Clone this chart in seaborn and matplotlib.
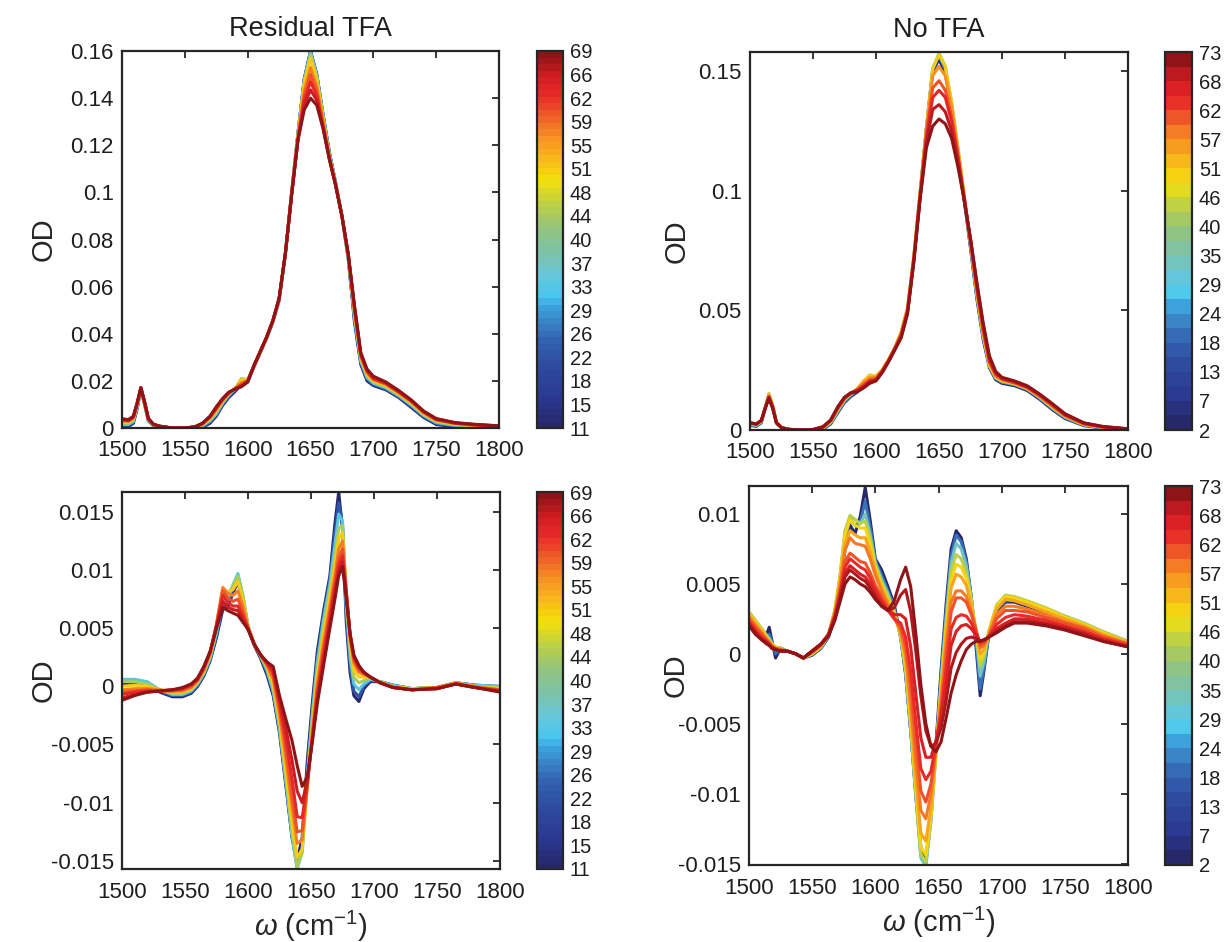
import numpy as np
import pandas as pd
import matplotlib
matplotlib.use("Agg")
import matplotlib.pyplot as plt
from matplotlib.colors import LinearSegmentedColormap, ListedColormap, Normalize
import matplotlib.cm as mcm
import seaborn as sns

# ---------------- data ----------------
WN_TOP = [1500, 1505, 1509, 1512, 1515, 1518, 1521, 1525, 1530, 1540,
          1550, 1558, 1564, 1570, 1575, 1580, 1585, 1590, 1595, 1600,
          1605, 1610, 1615, 1620, 1625, 1630, 1635, 1640, 1645, 1650,
          1655, 1660, 1665, 1670, 1675, 1680, 1685, 1690, 1695, 1700,
          1710, 1720, 1730, 1740, 1750, 1765, 1780, 1800]

# Residual TFA, absorbance, one list per time
TL_TIMES = [11, 22, 33, 44, 51, 57, 60, 63, 66, 69]
TL_11 = [0.0005,0.0006,0.002,0.008,0.0165,0.010,0.003,0.001,0.0003,0.0,
         0.0,0.0,0.0003,0.002,0.005,0.0095,0.013,0.0155,0.0185,0.0195,
         0.026,0.032,0.038,0.045,0.054,0.074,0.100,0.125,0.148,0.160,
         0.150,0.133,0.117,0.104,0.090,0.072,0.045,0.027,0.020,0.018,
         0.0162,0.013,0.0088,0.0045,0.0015,0.0005,0.0002,0.0]
TL_22 = [0.001,0.001,0.0024,0.0084,0.0166,0.0102,0.0032,0.0011,0.0004,0.0,
         0.0,0.0001,0.0006,0.0025,0.0055,0.010,0.0135,0.016,0.0195,0.020,
         0.0261,0.0321,0.0381,0.0451,0.0542,0.074,0.100,0.125,0.148,0.1598,
         0.150,0.133,0.117,0.104,0.090,0.0723,0.046,0.0277,0.0207,0.0185,
         0.0166,0.0134,0.0093,0.0049,0.0019,0.0008,0.0004,0.0001]
TL_33 = [0.0015,0.0015,0.0028,0.0088,0.0167,0.0103,0.0033,0.0012,0.0005,0.0,
         0.0,0.0002,0.0009,0.003,0.006,0.0105,0.014,0.0165,0.0205,0.0205,
         0.0262,0.0322,0.0382,0.0452,0.0543,0.074,0.0998,0.1245,0.1475,0.1595,
         0.1495,0.1325,0.1165,0.104,0.090,0.0726,0.047,0.0284,0.0214,0.019,
         0.017,0.0138,0.0098,0.0053,0.0023,0.0011,0.0006,0.0002]
TL_44 = [0.002,0.002,0.0033,0.0092,0.0168,0.0105,0.0035,0.0013,0.0006,0.0,
         0.0,0.0003,0.0012,0.0035,0.0066,0.011,0.0143,0.0168,0.021,0.0205,
         0.0262,0.0322,0.0382,0.0452,0.0545,0.074,0.0996,0.124,0.147,0.1585,
         0.149,0.132,0.116,0.1035,0.090,0.073,0.048,0.0291,0.0221,0.0195,
         0.0175,0.0142,0.0103,0.0057,0.0027,0.0014,0.0008,0.0003]
TL_51 = [0.0025,0.0024,0.0038,0.0096,0.0169,0.0106,0.0036,0.0014,0.0006,0.0,
         0.0,0.0004,0.0015,0.004,0.0072,0.0113,0.0146,0.0168,0.0205,0.0203,
         0.0263,0.0323,0.0383,0.0453,0.0546,0.074,0.0994,0.124,0.146,0.157,
         0.1475,0.131,0.1155,0.1035,0.090,0.0733,0.049,0.0298,0.0228,0.020,
         0.018,0.0146,0.0108,0.0061,0.0031,0.0017,0.001,0.0005]
TL_57 = [0.003,0.0028,0.0042,0.010,0.017,0.0108,0.0038,0.0015,0.0007,0.0,
         0.0,0.0004,0.0017,0.0044,0.0078,0.0117,0.0148,0.0167,0.0192,0.020,
         0.0263,0.0323,0.0383,0.0453,0.0547,0.074,0.0993,0.123,0.143,0.153,
         0.145,0.130,0.115,0.103,0.090,0.0736,0.050,0.0305,0.0235,0.0205,
         0.0185,0.015,0.0112,0.0065,0.0034,0.0019,0.0012,0.0006]
TL_60 = [0.0033,0.003,0.0044,0.0102,0.017,0.0108,0.0038,0.0015,0.0007,0.0,
         0.0,0.0004,0.0018,0.0046,0.0081,0.0119,0.0149,0.0166,0.0186,0.0199,
         0.0263,0.0323,0.0383,0.0453,0.0548,0.074,0.0992,0.1228,0.141,0.150,
         0.143,0.129,0.1148,0.103,0.090,0.0737,0.0505,0.0308,0.0238,0.0208,
         0.0188,0.0152,0.0114,0.0067,0.0035,0.002,0.0013,0.0007]
TL_63 = [0.0035,0.0032,0.0046,0.0103,0.0171,0.0109,0.0039,0.0016,0.0007,0.0,
         0.0,0.0005,0.0019,0.0047,0.0084,0.0121,0.015,0.0166,0.018,0.0198,
         0.0264,0.0324,0.0384,0.0454,0.0549,0.074,0.0991,0.1225,0.139,0.147,
         0.141,0.128,0.1145,0.103,0.090,0.0738,0.051,0.0312,0.0242,0.021,
         0.019,0.0155,0.0116,0.0069,0.0037,0.0021,0.0014,0.0008]
TL_66 = [0.0038,0.0034,0.0048,0.0104,0.0171,0.011,0.004,0.0016,0.0008,0.0,
         0.0,0.0005,0.002,0.0049,0.0087,0.0123,0.0151,0.0166,0.0178,0.0197,
         0.0265,0.0325,0.0385,0.0455,0.055,0.074,0.099,0.1222,0.137,0.1435,
         0.139,0.1275,0.1142,0.103,0.090,0.0739,0.0515,0.0316,0.0246,0.0215,
         0.0193,0.0158,0.0118,0.0071,0.0039,0.0022,0.0015,0.0009]
TL_69 = [0.004,0.0035,0.005,0.0105,0.0171,0.011,0.004,0.0016,0.0008,0.0,
         0.0,0.0005,0.002,0.005,0.009,0.0125,0.0152,0.0165,0.0175,0.0195,
         0.0265,0.0325,0.0385,0.0455,0.055,0.074,0.099,0.122,0.135,0.140,
         0.137,0.127,0.114,0.103,0.090,0.074,0.052,0.032,0.025,0.022,
         0.0195,0.016,0.012,0.0072,0.004,0.0023,0.0016,0.0009]

# No TFA, absorbance
TR_TIMES = [2, 24, 40, 51, 57, 62, 66, 70, 73]
TR_02 = [0.002,0.0015,0.003,0.009,0.0145,0.010,0.003,0.001,0.0002,0.0,
         0.0,0.0003,0.0025,0.0075,0.0115,0.014,0.0158,0.018,0.0205,0.0215,
         0.0245,0.029,0.034,0.040,0.050,0.072,0.099,0.126,0.150,0.155,
         0.149,0.134,0.116,0.096,0.076,0.055,0.038,0.026,0.021,0.0195,
         0.0185,0.0165,0.0128,0.0085,0.0048,0.0018,0.0008,0.0002]
TR_24 = [0.0022,0.0017,0.0032,0.009,0.015,0.0103,0.003,0.001,0.0002,0.0,
         0.0,0.0005,0.0028,0.0079,0.012,0.0145,0.0165,0.019,0.0218,0.022,
         0.025,0.0293,0.0343,0.0405,0.0505,0.0722,0.099,0.126,0.151,0.1565,
         0.151,0.136,0.117,0.097,0.077,0.056,0.039,0.0265,0.0215,0.020,
         0.019,0.017,0.0133,0.009,0.0052,0.002,0.0009,0.0002]
TR_40 = [0.0025,0.002,0.0035,0.009,0.0152,0.0104,0.003,0.001,0.0003,0.0,
         0.0,0.0007,0.0032,0.0083,0.0125,0.015,0.017,0.020,0.023,0.0225,
         0.0252,0.0295,0.0345,0.041,0.051,0.0724,0.099,0.126,0.151,0.1575,
         0.152,0.137,0.118,0.098,0.078,0.057,0.040,0.027,0.022,0.0205,
         0.0192,0.0172,0.0136,0.0093,0.0055,0.0022,0.001,0.0003]
TR_51 = [0.0027,0.0022,0.0037,0.009,0.015,0.0103,0.003,0.001,0.0003,0.0,
         0.0,0.0009,0.0035,0.0087,0.0128,0.0152,0.0172,0.0205,0.0228,0.0225,
         0.0252,0.0295,0.0345,0.041,0.051,0.0724,0.099,0.126,0.151,0.157,
         0.152,0.137,0.118,0.098,0.078,0.057,0.040,0.027,0.022,0.0205,
         0.0193,0.0173,0.0138,0.0096,0.0057,0.0023,0.0011,0.0003]
TR_57 = [0.0028,0.0023,0.0038,0.009,0.0145,0.010,0.003,0.001,0.0003,0.0,
         0.0001,0.001,0.0037,0.009,0.013,0.0153,0.0171,0.0198,0.022,0.022,
         0.025,0.0293,0.0343,0.0405,0.0505,0.072,0.0985,0.1255,0.148,0.152,
         0.148,0.135,0.117,0.098,0.078,0.058,0.041,0.028,0.0225,0.021,
         0.0195,0.0175,0.014,0.0099,0.0059,0.0025,0.0012,0.0004]
TR_62 = [0.0029,0.0024,0.0039,0.009,0.014,0.0097,0.003,0.001,0.0003,0.0,
         0.0001,0.0011,0.0039,0.0093,0.0132,0.0154,0.0168,0.019,0.021,0.0215,
         0.0248,0.0291,0.0341,0.040,0.050,0.0715,0.098,0.124,0.143,0.146,
         0.142,0.131,0.115,0.097,0.079,0.059,0.042,0.0285,0.023,0.0212,
         0.0197,0.0177,0.0143,0.0102,0.0061,0.0026,0.0012,0.0004]
TR_66 = [0.003,0.0025,0.004,0.009,0.0137,0.0094,0.003,0.001,0.0003,0.0,
         0.0002,0.0012,0.004,0.0096,0.0134,0.0155,0.0165,0.0183,0.0205,0.021,
         0.0245,0.029,0.034,0.0395,0.0495,0.071,0.0975,0.122,0.139,0.142,
         0.139,0.129,0.114,0.097,0.079,0.060,0.043,0.029,0.0235,0.0215,
         0.020,0.018,0.0145,0.0105,0.0063,0.0027,0.0013,0.0004]
TR_70 = [0.003,0.0025,0.004,0.009,0.0135,0.0092,0.003,0.001,0.0003,0.0,
         0.0002,0.0013,0.0041,0.0098,0.0136,0.0155,0.0163,0.0178,0.020,0.0208,
         0.0243,0.0288,0.0338,0.039,0.049,0.0705,0.097,0.120,0.134,0.136,
         0.133,0.125,0.112,0.096,0.080,0.061,0.044,0.030,0.024,0.0218,
         0.0202,0.0182,0.0148,0.0108,0.0066,0.0029,0.0014,0.0005]
TR_73 = [0.003,0.0025,0.004,0.009,0.0133,0.009,0.003,0.001,0.0003,0.0,
         0.0002,0.0014,0.0042,0.010,0.0137,0.0155,0.016,0.0175,0.0195,0.0205,
         0.024,0.0285,0.0335,0.0385,0.0485,0.070,0.0965,0.118,0.127,0.130,
         0.128,0.122,0.110,0.096,0.080,0.062,0.045,0.031,0.0245,0.022,
         0.0205,0.0185,0.015,0.011,0.0068,0.003,0.0015,0.0005]

# Residual TFA, difference spectra
WN_BL = [1500, 1510, 1520, 1530, 1540, 1548, 1555, 1560, 1565, 1570,
         1575, 1580, 1584, 1588, 1592, 1596, 1600, 1605, 1610, 1615,
         1620, 1625, 1630, 1635, 1639, 1643, 1647, 1651, 1655, 1660,
         1665, 1669, 1672, 1675, 1678, 1681, 1684, 1688, 1692, 1697,
         1705, 1715, 1730, 1750, 1765, 1780, 1800]
BL_TIMES = [11, 22, 33, 44, 51, 57, 60, 63, 66, 69]
BL_11 = [0.0002,0.0003,0.0001,-0.0005,-0.0009,-0.0009,-0.0006,0.0,0.0009,0.0022,
         0.0042,0.0066,0.0068,0.0080,0.0090,0.0072,0.0050,0.0035,0.0024,0.0010,
         -0.0008,-0.0040,-0.0085,-0.0130,-0.0150,-0.0130,-0.0065,-0.0015,0.0030,0.0065,
         0.0095,0.0140,0.0167,0.0135,0.0055,0.0012,-0.0008,-0.0013,-0.0002,0.0004,
         0.0004,0.0001,-0.0002,-0.0001,0.0003,0.0001,-0.0001]
BL_22 = [0.0004,0.0005,0.0003,-0.0004,-0.0008,-0.0008,-0.0005,0.0001,0.001,0.0023,
         0.0044,0.0069,0.0071,0.0084,0.0095,0.0076,0.0051,0.0036,0.0025,0.0012,
         -0.0006,-0.0038,-0.0083,-0.0130,-0.0155,-0.0137,-0.0072,-0.0020,0.0025,0.0062,
         0.0092,0.0132,0.0158,0.0140,0.0062,0.0018,-0.0004,-0.0009,0.0,0.0005,
         0.0004,0.0001,-0.0002,-0.0001,0.0003,0.0001,0.0]
BL_33 = [0.0006,0.0006,0.0004,-0.0003,-0.0007,-0.0007,-0.0004,0.0002,0.0011,0.0024,
         0.0046,0.0073,0.0075,0.0087,0.0097,0.0078,0.0052,0.0036,0.0026,0.0014,
         -0.0004,-0.0036,-0.0081,-0.0129,-0.0157,-0.0142,-0.0078,-0.0025,0.0020,0.0058,
         0.0088,0.0122,0.0148,0.0142,0.0068,0.0025,0.0002,-0.0003,0.0002,0.0006,
         0.0004,0.0001,-0.0002,-0.0001,0.0003,0.0001,0.0]
BL_44 = [0.0004,0.0004,0.0002,-0.0003,-0.0006,-0.0006,-0.0003,0.0003,0.0012,0.0026,
         0.0049,0.0078,0.0079,0.0086,0.0095,0.0077,0.0052,0.0036,0.0026,0.0016,
         -0.0001,-0.0033,-0.0077,-0.0125,-0.0155,-0.0143,-0.0083,-0.0030,0.0014,0.0052,
         0.0082,0.0112,0.0136,0.0138,0.0075,0.0032,0.0008,0.0003,0.0005,0.0007,
         0.0004,0.0,-0.0002,-0.0001,0.0003,0.0,-0.0001]
BL_51 = [0.0,0.0001,0.0,-0.0003,-0.0005,-0.0005,-0.0002,0.0004,0.0013,0.0027,
         0.0052,0.0083,0.0081,0.0083,0.0090,0.0074,0.0051,0.0036,0.0027,0.0017,
         0.0002,-0.0029,-0.0071,-0.0117,-0.0147,-0.0140,-0.0086,-0.0035,0.0008,0.0045,
         0.0076,0.0104,0.0127,0.0132,0.0080,0.0038,0.0014,0.0008,0.0008,0.0008,
         0.0003,0.0,-0.0002,-0.0001,0.0003,0.0,-0.0002]
BL_57 = [-0.0003,-0.0002,-0.0002,-0.0003,-0.0004,-0.0004,-0.0001,0.0005,0.0014,0.0028,
         0.0054,0.0085,0.0080,0.0078,0.0082,0.0069,0.0051,0.0036,0.0027,0.0018,
         0.0006,-0.0024,-0.0062,-0.0104,-0.0135,-0.0132,-0.0087,-0.0040,0.0002,0.0038,
         0.0069,0.0096,0.0118,0.0125,0.0083,0.0042,0.0020,0.0012,0.0010,0.0008,
         0.0003,0.0,-0.0003,-0.0001,0.0003,0.0,-0.0003]
BL_60 = [-0.0005,-0.0004,-0.0003,-0.0004,-0.0004,-0.0003,0.0,0.0005,0.0015,0.0029,
         0.0053,0.0082,0.0076,0.0073,0.0075,0.0064,0.0050,0.0036,0.0027,0.0019,
         0.0009,-0.0019,-0.0054,-0.0094,-0.0125,-0.0124,-0.0086,-0.0043,-0.0003,0.0033,
         0.0064,0.0090,0.0110,0.0118,0.0082,0.0044,0.0023,0.0014,0.0011,0.0008,
         0.0003,-0.0001,-0.0003,-0.0001,0.0002,-0.0001,-0.0003]
BL_63 = [-0.0007,-0.0005,-0.0004,-0.0004,-0.0003,-0.0002,0.0001,0.0006,0.0016,0.003,
         0.0052,0.0078,0.0072,0.0069,0.0069,0.0060,0.0050,0.0036,0.0027,0.0020,
         0.0012,-0.0015,-0.0045,-0.0080,-0.0112,-0.0113,-0.0084,-0.0045,-0.0007,0.0027,
         0.0059,0.0085,0.0104,0.0112,0.0080,0.0045,0.0025,0.0016,0.0012,0.0008,
         0.0003,-0.0001,-0.0003,-0.0002,0.0002,-0.0001,-0.0004]
BL_66 = [-0.001,-0.0007,-0.0005,-0.0004,-0.0003,-0.0002,0.0002,0.0007,0.0017,0.003,
         0.0051,0.0073,0.0068,0.0066,0.0065,0.0057,0.0049,0.0036,0.0027,0.0021,
         0.0015,-0.0011,-0.0036,-0.0064,-0.0090,-0.0100,-0.0081,-0.0047,-0.0011,0.0022,
         0.0054,0.0080,0.0099,0.0107,0.0078,0.0045,0.0026,0.0017,0.0012,0.0008,
         0.0003,-0.0001,-0.0003,-0.0002,0.0002,-0.0001,-0.0004]
BL_69 = [-0.0012,-0.0008,-0.0005,-0.0004,-0.0003,-0.0001,0.0002,0.0007,0.0017,0.003,
         0.0050,0.0068,0.0065,0.0063,0.0061,0.0055,0.0049,0.0036,0.0027,0.0021,
         0.0017,-0.0008,-0.0028,-0.0047,-0.0068,-0.0086,-0.0078,-0.0048,-0.0015,0.0018,
         0.0050,0.0075,0.0095,0.0103,0.0075,0.0045,0.0027,0.0018,0.0012,0.0008,
         0.0003,-0.0001,-0.0003,-0.0002,0.0002,-0.0001,-0.0005]

# No TFA, difference spectra
WN_BR = [1500, 1505, 1510, 1514, 1516, 1518, 1521, 1525, 1530, 1537,
         1543, 1550, 1557, 1563, 1568, 1572, 1576, 1580, 1584, 1588,
         1592, 1596, 1600, 1605, 1610, 1615, 1620, 1624, 1628, 1632,
         1636, 1640, 1644, 1648, 1652, 1656, 1660, 1664, 1668, 1672,
         1676, 1680, 1683, 1686, 1690, 1696, 1703, 1710, 1720, 1735,
         1750, 1765, 1780, 1800]
BR_TIMES = [2, 20, 33, 44, 50, 55, 59, 62, 65, 68, 71, 73]
BR_02 = [0.0028,0.0022,0.0016,0.0014,0.0019,0.001,-0.0003,0.0004,0.0002,0.0,
         -0.0003,-0.0001,0.0004,0.0012,0.0028,0.0048,0.0075,0.0092,0.0086,0.0098,
         0.0119,0.0095,0.0068,0.0060,0.0048,0.0035,0.0012,-0.0015,-0.0055,-0.0100,
         -0.0138,-0.0147,-0.0115,-0.0065,-0.0012,0.0035,0.0075,0.0088,0.0083,0.0068,
         0.0040,0.0002,-0.0030,-0.0012,0.0015,0.0031,0.0037,0.0037,0.0034,0.0030,
         0.0026,0.0021,0.0015,0.0008]
BR_20 = [0.0029,0.0023,0.0017,0.0013,0.0014,0.0009,0.0,0.0004,0.0002,0.0,
         -0.0003,-0.0001,0.0004,0.0013,0.003,0.0052,0.0082,0.0096,0.0092,0.0094,
         0.0109,0.0090,0.0067,0.0056,0.0045,0.0033,0.0012,-0.0014,-0.0055,-0.0101,
         -0.0143,-0.0150,-0.0118,-0.0068,-0.0016,0.0030,0.0070,0.0085,0.0080,0.0066,
         0.0040,0.0006,-0.0025,-0.0010,0.0015,0.0032,0.0038,0.0038,0.0035,0.0031,
         0.0026,0.0021,0.0015,0.0008]
BR_33 = [0.003,0.0024,0.0018,0.0013,0.0011,0.0008,0.0004,0.0004,0.0002,0.0,
         -0.0003,0.0,0.0005,0.0013,0.0031,0.0055,0.0087,0.0098,0.0096,0.0093,
         0.0100,0.0085,0.0065,0.0053,0.0043,0.0031,0.0012,-0.0013,-0.0054,-0.0101,
         -0.0146,-0.0152,-0.0120,-0.0071,-0.0020,0.0025,0.0065,0.0079,0.0075,0.0063,
         0.0040,0.0010,-0.0016,-0.0006,0.0016,0.0034,0.0040,0.0040,0.0037,0.0032,
         0.0027,0.0022,0.0016,0.0009]
BR_44 = [0.003,0.0024,0.0018,0.0013,0.001,0.0007,0.0005,0.0004,0.0002,0.0,
         -0.0003,0.0,0.0005,0.0014,0.0032,0.0056,0.0088,0.0099,0.0096,0.0093,
         0.0095,0.0082,0.0064,0.0051,0.0041,0.003,0.0013,-0.0011,-0.0052,-0.0099,
         -0.0143,-0.0149,-0.0118,-0.0071,-0.0023,0.0021,0.0059,0.0071,0.0068,0.0058,
         0.0038,0.0013,-0.0009,-0.0002,0.0017,0.0035,0.0042,0.0041,0.0038,0.0033,
         0.0027,0.0022,0.0016,0.0009]
BR_50 = [0.0029,0.0023,0.0017,0.0012,0.0009,0.0007,0.0005,0.0003,0.0002,0.0,
         -0.0003,0.0,0.0005,0.0014,0.0031,0.0054,0.0085,0.0096,0.0092,0.009,
         0.0090,0.0078,0.0062,0.0049,0.0039,0.0028,0.0014,-0.0008,-0.0048,-0.0095,
         -0.0138,-0.0144,-0.0115,-0.0071,-0.0026,0.0017,0.0053,0.0064,0.0062,0.0054,
         0.0036,0.0015,-0.0004,0.0001,0.0016,0.0034,0.0041,0.0040,0.0037,0.0032,
         0.0026,0.0021,0.0015,0.0008]
BR_55 = [0.0028,0.0022,0.0016,0.0011,0.0009,0.0006,0.0004,0.0003,0.0002,0.0,
         -0.0003,0.0001,0.0006,0.0014,0.003,0.0051,0.0079,0.0088,0.0085,0.0083,
         0.0083,0.0073,0.0059,0.0047,0.0037,0.0027,0.0015,-0.0004,-0.0042,-0.0088,
         -0.0128,-0.0134,-0.0110,-0.0070,-0.0030,0.0012,0.0047,0.0057,0.0055,0.0049,
         0.0034,0.0016,0.0,0.0003,0.0015,0.0032,0.0039,0.0038,0.0035,0.0030,
         0.0025,0.002,0.0014,0.0008]
BR_59 = [0.0026,0.002,0.0015,0.001,0.0008,0.0006,0.0004,0.0003,0.0002,0.0,
         -0.0003,0.0001,0.0006,0.0014,0.0029,0.0048,0.0074,0.0083,0.0079,0.0078,
         0.0077,0.0068,0.0056,0.0045,0.0035,0.0026,0.0017,0.0,-0.0034,-0.0077,
         -0.0112,-0.0118,-0.0100,-0.0067,-0.0034,0.0005,0.0037,0.0045,0.0045,0.0041,
         0.0030,0.0016,0.0004,0.0006,0.0014,0.0028,0.0034,0.0034,0.0032,0.0028,
         0.0023,0.0019,0.0013,0.0007]
BR_62 = [0.0025,0.0019,0.0014,0.001,0.0008,0.0005,0.0004,0.0003,0.0002,0.0,
         -0.0003,0.0001,0.0006,0.0014,0.0028,0.0045,0.0066,0.0072,0.0069,0.0066,
         0.0065,0.0058,0.0049,0.0041,0.0033,0.0025,0.0019,0.0006,-0.0022,-0.0062,
         -0.0098,-0.0106,-0.0093,-0.0066,-0.0039,-0.0003,0.0030,0.0040,0.0040,0.0037,
         0.0028,0.0016,0.0006,0.0008,0.0013,0.0025,0.0031,0.0031,0.0030,0.0026,
         0.0022,0.0018,0.0012,0.0007]
BR_65 = [0.0023,0.0017,0.0012,0.0009,0.0007,0.0005,0.0003,0.0002,0.0002,0.0,
         -0.0003,0.0002,0.0007,0.0014,0.0027,0.0043,0.0062,0.0068,0.0065,0.0062,
         0.0060,0.0054,0.0046,0.0038,0.0031,0.0025,0.0022,0.0012,-0.0012,-0.0048,
         -0.0082,-0.0090,-0.0084,-0.0064,-0.0043,-0.0012,0.0018,0.0026,0.0028,0.0027,
         0.0022,0.0014,0.0008,0.0009,0.0012,0.0021,0.0026,0.0028,0.0027,0.0024,
         0.002,0.0016,0.0011,0.0006]
BR_68 = [0.0022,0.0016,0.0011,0.0008,0.0007,0.0005,0.0003,0.0002,0.0002,0.0,
         -0.0003,0.0002,0.0007,0.0014,0.0026,0.0041,0.0058,0.0063,0.006,0.0057,
         0.0055,0.005,0.0043,0.0036,0.0031,0.0028,0.0028,0.0025,0.0005,-0.0028,
         -0.0060,-0.0074,-0.0074,-0.0062,-0.0047,-0.0023,0.0006,0.0016,0.0020,0.0021,
         0.0018,0.0013,0.0009,0.001,0.0012,0.0018,0.0022,0.0025,0.0025,0.0022,
         0.0019,0.0015,0.001,0.0005]
BR_71 = [0.0021,0.0015,0.001,0.0008,0.0006,0.0004,0.0003,0.0002,0.0002,0.0,
         -0.0003,0.0002,0.0007,0.0013,0.0025,0.0039,0.0055,0.006,0.0057,0.0054,
         0.0052,0.0047,0.0041,0.0034,0.0031,0.0033,0.0042,0.0046,0.0030,0.0002,
         -0.0030,-0.0055,-0.0066,-0.0064,-0.0053,-0.0034,-0.0010,0.0001,0.0007,0.0011,
         0.0012,0.0011,0.0009,0.001,0.0012,0.0016,0.0020,0.0023,0.0023,0.0021,
         0.0018,0.0014,0.0009,0.0005]
BR_73 = [0.002,0.0014,0.001,0.0007,0.0006,0.0004,0.0003,0.0002,0.0002,0.0,
         -0.0003,0.0002,0.0007,0.0013,0.0024,0.0037,0.005,0.0055,0.0053,0.005,
         0.0048,0.0044,0.0039,0.0034,0.0031,0.0038,0.0053,0.0062,0.0048,0.0015,
         -0.0022,-0.0050,-0.0066,-0.0070,-0.0063,-0.0046,-0.0028,-0.0015,-0.0005,0.0003,
         0.0007,0.0009,0.0009,0.001,0.0012,0.0015,0.0019,0.0022,0.0022,0.002,
         0.0017,0.0013,0.0009,0.0005]

# ticks / labels
X_TICKS = [1500, 1550, 1600, 1650, 1700, 1750, 1800]
X_TICKLABELS = ["1500", "1550", "1600", "1650", "1700", "1750", "1800"]
TL_YTICKS = [0, 0.02, 0.04, 0.06, 0.08, 0.1, 0.12, 0.14, 0.16]
TL_YLABELS = ["0", "0.02", "0.04", "0.06", "0.08", "0.1", "0.12", "0.14", "0.16"]
TR_YTICKS = [0, 0.05, 0.1, 0.15]
TR_YLABELS = ["0", "0.05", "0.1", "0.15"]
BL_YTICKS = [-0.015, -0.01, -0.005, 0, 0.005, 0.01, 0.015]
BL_YLABELS = ["-0.015", "-0.01", "-0.005", "0", "0.005", "0.01", "0.015"]
BR_YTICKS = [-0.015, -0.01, -0.005, 0, 0.005, 0.01]
BR_YLABELS = ["-0.015", "-0.01", "-0.005", "0", "0.005", "0.01"]
CB_LEFT_LABELS = ["11", "15", "18", "22", "26", "29", "33", "37", "40", "44",
                  "48", "51", "55", "59", "62", "66", "69"]
CB_RIGHT_LABELS = ["2", "7", "13", "18", "24", "29", "35", "40", "46", "51",
                   "57", "62", "68", "73"]
TITLES = ["Residual TFA", "No TFA"]
Y_LABEL = "OD"
X_LABEL = r"$\omega$ (cm$^{-1}$)"

# ---------------- style ----------------
sns.set_style("white")
plt.rcParams["font.family"] = ["Liberation Sans", "DejaVu Sans"]
plt.rcParams["mathtext.fontset"] = "custom"
plt.rcParams["mathtext.rm"] = "Liberation Sans"
plt.rcParams["mathtext.it"] = "Liberation Sans:italic"
plt.rcParams["text.color"] = "#1e1e1e"

anchor_pos = [0.0, 0.07, 0.155, 0.225, 0.28, 0.325, 0.35, 0.41, 0.465, 0.535,
              0.605, 0.66, 0.72, 0.775, 0.83, 0.89, 0.945, 1.0]
anchor_col = ["#26286a", "#2b3890", "#2e4aa0", "#3260b0", "#3a86c8", "#3ca8e2",
              "#48c8f0", "#6ac6d6", "#7cc2a8", "#94c47c", "#c4d23c", "#f4e00c",
              "#f8b81a", "#f89222", "#f06228", "#e82a28", "#d01c22", "#8e1418"]
CMAP = LinearSegmentedColormap.from_list("spec", list(zip(anchor_pos, anchor_col)))
EDGE = "#262626"

fig = plt.figure(figsize=(12.25, 9.42), dpi=100)
W, H = 1225.0, 942.0


def rect(l, t, r, b):
    return [l / W, 1 - b / H, (r - l) / W, (b - t) / H]


def draw_panel(box, wn, times, curves, tmin, tmax, ylim, yticks, ylabels,
               ylab_x, title=None, xlabel=False):
    ax = fig.add_axes(rect(*box))
    rows = []
    for t, c in zip(times, curves):
        assert len(c) == len(wn), (t, len(c), len(wn))
        for xv, yv in zip(wn, c):
            rows.append((xv, yv, t))
    df = pd.DataFrame(rows, columns=["wn", "od", "t"])
    sns.lineplot(data=df, x="wn", y="od", hue="t", palette=CMAP,
                 hue_norm=(tmin, tmax), estimator=None, errorbar=None,
                 legend=False, linewidth=2.2, ax=ax,
                 solid_joinstyle="round", solid_capstyle="round")
    ax.set_xlim(1500, 1800)
    ax.set_ylim(*ylim)
    ax.set_xticks(X_TICKS)
    ax.set_xticklabels(X_TICKLABELS)
    ax.set_yticks(yticks)
    ax.set_yticklabels(ylabels)
    ax.tick_params(axis="both", direction="in", top=True, right=True,
                   length=5, width=1.3, color=EDGE, labelsize=16,
                   labelcolor="#1e1e1e")
    ax.tick_params(axis="x", pad=9)
    ax.tick_params(axis="y", pad=6)
    for s in ax.spines.values():
        s.set_linewidth(1.6)
        s.set_color(EDGE)
        s.set_visible(True)
    ax.set_ylabel(Y_LABEL, fontsize=21)
    ax.yaxis.set_label_coords(ylab_x, 0.5)
    if xlabel:
        ax.set_xlabel(X_LABEL, fontsize=21)
        ax.xaxis.set_label_coords(0.5, -0.105)
    else:
        ax.set_xlabel("")
    if title:
        ax.set_title(title, fontsize=19.5, pad=11)
    ax.grid(False)
    return ax


def draw_cbar(box, tmin, tmax, labels, n_blocks):
    cax = fig.add_axes(rect(*box))
    dcmap = ListedColormap(CMAP(np.linspace(0, 1, n_blocks)))
    sm = mcm.ScalarMappable(norm=Normalize(tmin, tmax), cmap=dcmap)
    cb = fig.colorbar(sm, cax=cax)
    major = np.linspace(tmin, tmax, len(labels))
    cb.set_ticks(major, labels=labels)
    cb.set_ticks((major[:-1] + major[1:]) / 2, minor=True)
    cax.tick_params(which="both", direction="in", length=4, width=1.3,
                    color=EDGE, labelsize=14.5, pad=5, right=True, left=False,
                    labelcolor="#1e1e1e")
    cb.outline.set_linewidth(1.6)
    cb.outline.set_edgecolor(EDGE)
    return cb


draw_panel((122, 51, 499, 428), WN_TOP, TL_TIMES,
           [TL_11, TL_22, TL_33, TL_44, TL_51, TL_57, TL_60, TL_63, TL_66, TL_69],
           11, 69, (0, 0.16), TL_YTICKS, TL_YLABELS, -0.17, title=TITLES[0])
draw_cbar((537, 51, 563, 428), 11, 69, CB_LEFT_LABELS, 58)

draw_panel((750, 52, 1128, 430), WN_TOP, TR_TIMES,
           [TR_02, TR_24, TR_40, TR_51, TR_57, TR_62, TR_66, TR_70, TR_73],
           2, 73, (0, 0.158), TR_YTICKS, TR_YLABELS, -0.158, title=TITLES[1])
draw_cbar((1165, 52, 1192, 430), 2, 73, CB_RIGHT_LABELS, 26)

draw_panel((122, 492, 500, 869), WN_BL, BL_TIMES,
           [BL_11, BL_22, BL_33, BL_44, BL_51, BL_57, BL_60, BL_63, BL_66, BL_69],
           11, 69, (-0.0157, 0.0167), BL_YTICKS, BL_YLABELS, -0.17, xlabel=True)
draw_cbar((537, 492, 563, 869), 11, 69, CB_LEFT_LABELS, 58)

draw_panel((749, 486, 1128, 865), WN_BR, BR_TIMES,
           [BR_02, BR_20, BR_33, BR_44, BR_50, BR_55, BR_59, BR_62, BR_65,
            BR_68, BR_71, BR_73],
           2, 73, (-0.0151, 0.012), BR_YTICKS, BR_YLABELS, -0.156, xlabel=True)
draw_cbar((1165, 486, 1192, 865), 2, 73, CB_RIGHT_LABELS, 26)

fig.savefig("out.png", dpi=100)
